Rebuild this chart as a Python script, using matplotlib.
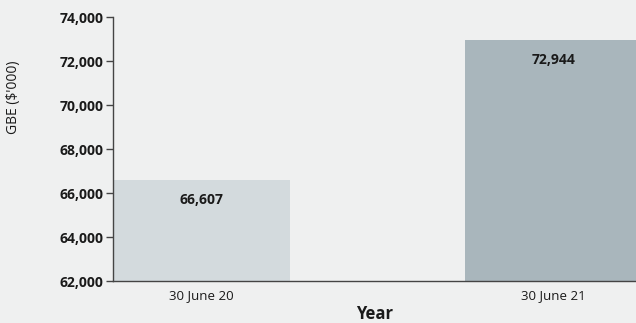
import matplotlib
matplotlib.use('Agg')
import matplotlib.pyplot as plt
from matplotlib.ticker import FuncFormatter

plt.rcParams['font.family'] = ['Open Sans', 'DejaVu Sans']

categories = ['30 June 20', '30 June 21']
values = [66607, 72944]
bar_colors = ['#d3dadd', '#a9b6bc']
yticks = [62000, 64000, 66000, 68000, 70000, 72000, 74000]

BG = '#eff0f0'
fig = plt.figure(figsize=(6.36, 3.23), dpi=100, facecolor=BG)
ax = fig.add_axes([0.1777, 0.130, 0.8223, 0.817], facecolor=BG)

x = list(range(len(categories)))
width = 0.503
ax.bar(x, values, width=width, color=bar_colors, bottom=0)
for xi, v in zip(x, values):
    ax.annotate(f'{v:,}', (xi, v), xytext=(0, -20), textcoords='offset pixels',
                ha='center', va='center', fontsize=10, fontweight='bold', color='#1a1a1a')

ax.set_xlim(-width / 2, 1.234)
ax.set_ylim(62000, 74000)
ax.set_yticks(yticks)
ax.yaxis.set_major_formatter(FuncFormatter(lambda v, p: f'{int(v):,}'))
ax.set_xticks(x)
ax.set_xticklabels(categories, fontsize=9.5, color='#1a1a1a')
ax.tick_params(axis='x', length=0, pad=6)
ax.tick_params(axis='y', length=5, width=1, color='#444444', pad=2, labelsize=10)
for lab in ax.get_yticklabels():
    lab.set_fontweight('bold')
    lab.set_color('#1a1a1a')

for s in ['top', 'right']:
    ax.spines[s].set_visible(False)
for s in ['left', 'bottom']:
    ax.spines[s].set_color('#444444')
    ax.spines[s].set_linewidth(1)

ax.set_xlabel('Year', fontsize=12, fontweight='bold', color='#1a1a1a', labelpad=2)
fig.text(0.021, 0.70, "GBE ($'000)", rotation=90, ha='center', va='center',
         fontsize=10, color='#1a1a1a')

fig.savefig('out.png', dpi=100, facecolor=BG)
